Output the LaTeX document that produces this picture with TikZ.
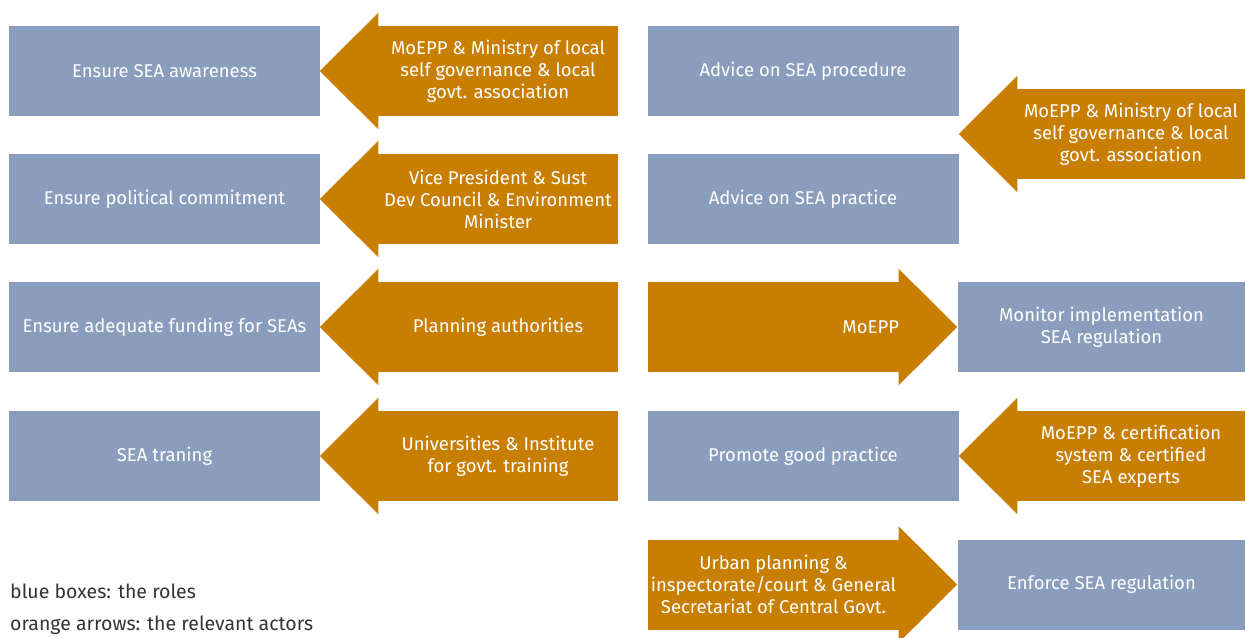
\documentclass[tikz,border=0pt]{standalone}
\usepackage{fontspec}
\setmainfont{Fira Sans}
\usetikzlibrary{positioning,calc}

\definecolor{roleblue}{RGB}{138,157,189}
\definecolor{actororange}{RGB}{200,126,0}
\definecolor{legendgray}{RGB}{51,51,51}

% arrow heads on the actor bodies
\newcommand{\headleft}[1]{\fill[actororange] ($(#1.north west)+(0.5,-13)$) -- ($(#1.west)+(-58,0)$) -- ($(#1.south west)+(0.5,13)$) -- cycle;}
\newcommand{\headright}[1]{\fill[actororange] ($(#1.north east)+(-0.5,-13)$) -- ($(#1.east)+(58,0)$) -- ($(#1.south east)+(-0.5,13)$) -- cycle;}

\begin{document}
\begin{tikzpicture}[x=1pt, y=-1pt,
    role/.style={fill=roleblue, text=white,
        minimum width=311pt, minimum height=90pt,
        inner sep=0pt, align=center,
        font=\fontsize{18.5}{22}\selectfont},
    actor/.style={fill=actororange, text=white,
        minimum height=90pt,
        inner sep=0pt, align=center,
        font=\fontsize{18.5}{22}\selectfont},
    legend/.style={text=legendgray, anchor=base west, inner sep=0pt,
        font=\fontsize{19.5}{22}\selectfont}]

    \useasboundingbox (0,0) rectangle (1246,637);

    %roles, left column
    \node[role] (awareness) at (164.5,71) {Ensure SEA awareness};
    \node[role] (commitment) at (164.5,199) {Ensure political commitment};
    \node[role] (funding) at (164.5,327) {Ensure adequate funding for SEAs};
    \node[role] (training) at (164.5,456) {SEA traning};

    %roles, right column
    \node[role] (procedure) at (803,71) {Advice on SEA procedure};
    \node[role] (practice) at (803,199) {Advice on SEA practice};
    \node[role, minimum width=287pt] (monitor) at (1101.5,327) {Monitor implementation\\SEA regulation};
    \node[role] (promote) at (803,456) {Promote good practice};
    \node[role, minimum width=287pt] (enforce) at (1101.5,584.5) {Enforce SEA regulation};

    %actors, left column
    \node[actor, minimum width=240pt] (moeppA) at (498,71)
        {MoEPP \& Ministry of local\\self governance \& local\\govt. association};
    \headleft{moeppA}
    \node[actor, minimum width=240pt] (vicepres) at (498,199)
        {Vice President \& Sust\\Dev Council \& Environment\\Minister};
    \headleft{vicepres}
    \node[actor, minimum width=240pt] (planning) at (498,327) {Planning authorities};
    \headleft{planning}
    \node[actor, minimum width=240pt] (univ) at (498,456)
        {Universities \& Institute\\for govt. training};
    \headleft{univ}

    %actors, right column
    \node[actor, minimum width=228pt] (moeppB) at (1131,134)
        {MoEPP \& Ministry of local\\self governance \& local\\govt. association};
    \headleft{moeppB}
    \node[actor, minimum width=251pt, text width=251pt, align=right] (moeppC) at (773.5,327) {MoEPP};
    \headright{moeppC}
    \node[actor, minimum width=228pt] (certif) at (1131,456)
        {MoEPP \& certification\\system \& certified\\SEA experts};
    \headleft{certif}
    \node[actor, minimum width=251pt] (urban) at (773.5,584.5)
        {Urban planning \&\\inspectorate/court \& General\\Secretariat of Central Govt.};
    \headright{urban}

    %legend
    \node[legend] (legroles) at (10,598) {blue boxes: the roles};
    \node[legend] (legactors) at (10,630) {orange arrows: the relevant actors};

\end{tikzpicture}
\end{document}
